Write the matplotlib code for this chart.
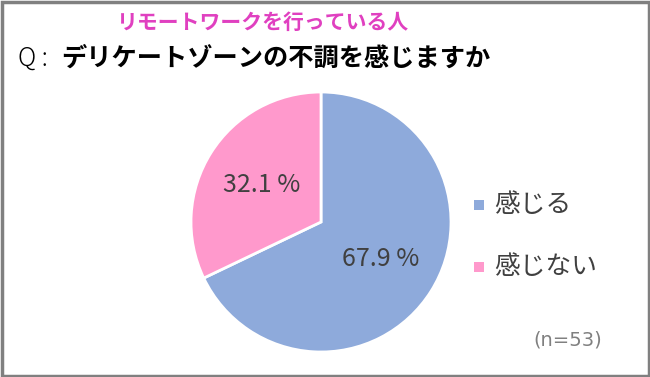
import matplotlib
matplotlib.use("Agg")
import matplotlib.pyplot as plt
from matplotlib.patches import Rectangle

plt.rcParams['font.family'] = ['Noto Sans CJK JP', 'DejaVu Sans']

labels = ['感じる', '感じない']
values = [67.9, 32.1]
colors = ['#8eaadb', '#ff99cc']

W, H = 650, 377
fig = plt.figure(figsize=(W / 100, H / 100), dpi=100)

# pie centered at (321, 222) px, radius 130 px
cx, cy, r = 321, 222, 130
ax = fig.add_axes([(cx - r) / W, (H - cy - r) / H, 2 * r / W, 2 * r / H])
wedges, texts, autotexts = ax.pie(
    values, colors=colors, startangle=90, counterclock=False,
    autopct=lambda p: f'{p:.1f} %', pctdistance=0.54,
    wedgeprops=dict(edgecolor='white', linewidth=2),
    textprops=dict(fontsize=18, color='#404040'))
ax.set_xlim(-1, 1)
ax.set_ylim(-1, 1)
ax.set_aspect('equal')

# frame
fig.patches.append(Rectangle((1.5 / W, 1.5 / H), 1 - 3 / W, 1 - 3 / H,
                             transform=fig.transFigure, fill=False,
                             edgecolor='#808080', linewidth=2.5))

fig.text(263 / W, 1 - 22 / H, 'リモートワークを行っている人', ha='center', va='center',
         fontsize=15, fontweight='bold', color='#e040c0')
fig.text(18 / W, 1 - 58 / H, 'Q :', ha='left', va='center',
         fontsize=18, color='#000000', fontweight='light')
fig.text(61 / W, 1 - 58 / H, 'デリケートゾーンの不調を感じますか', ha='left', va='center',
         fontsize=18.2, fontweight='bold', color='#000000')

# legend
for i, (lab, col) in enumerate(zip(labels, colors)):
    y = 205 + i * 62
    fig.patches.append(Rectangle((474 / W, 1 - (y + 5) / H), 10 / W, 10 / H,
                                 transform=fig.transFigure, facecolor=col, edgecolor='none'))
    fig.text(494 / W, 1 - y / H, lab, ha='left', va='center',
             fontsize=18.5, color='#404040')

fig.text(568 / W, 1 - 340 / H, '(n=53)', ha='center', va='center',
         fontsize=14, color='#808080', family='DejaVu Sans')

fig.savefig('out.png', dpi=100)
